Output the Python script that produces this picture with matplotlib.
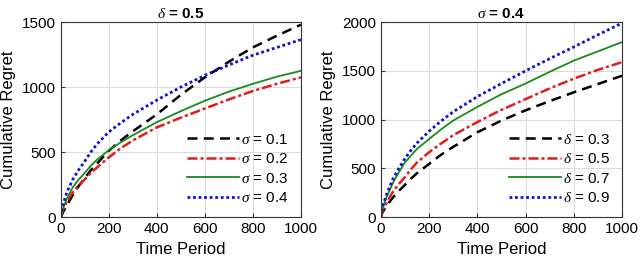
import numpy as np
import matplotlib
matplotlib.use("Agg")
import matplotlib.pyplot as plt

plt.rcParams['font.family'] = ['Liberation Sans', 'DejaVu Sans']
plt.rcParams['mathtext.fontset'] = 'custom'
plt.rcParams['mathtext.it'] = 'Liberation Serif:italic'

# time points
t = [0, 5, 10, 25, 50, 75, 100, 125, 150, 200, 250, 300, 400, 500, 600, 700, 800, 900, 1000]

# left panel, delta = 0.5
s01 = [0, 20, 40, 90, 170, 240, 300, 360, 410, 510, 590, 660, 790, 940, 1075, 1195, 1305, 1395, 1480]
s02 = [0, 35, 60, 120, 190, 245, 290, 340, 380, 460, 530, 590, 690, 765, 835, 905, 970, 1025, 1075]
s03 = [0, 40, 70, 140, 230, 290, 340, 395, 440, 515, 575, 630, 730, 815, 895, 965, 1025, 1080, 1125]
s04 = [0, 60, 100, 190, 290, 365, 430, 500, 560, 655, 725, 790, 900, 1000, 1090, 1170, 1245, 1305, 1365]

# right panel, sigma = 0.4
d03 = [0, 35, 60, 120, 200, 270, 330, 395, 450, 545, 640, 720, 870, 990, 1095, 1190, 1280, 1365, 1450]
d05 = [0, 45, 80, 150, 260, 340, 410, 490, 560, 665, 755, 840, 975, 1100, 1210, 1320, 1420, 1510, 1590]
d07 = [0, 65, 110, 210, 350, 460, 560, 630, 700, 800, 900, 990, 1130, 1260, 1370, 1490, 1605, 1700, 1795]
d09 = [0, 75, 130, 240, 390, 500, 600, 685, 760, 880, 985, 1080, 1235, 1370, 1500, 1625, 1745, 1870, 1990]

styles = [
    dict(color='black', linestyle=(0, (4, 2.5)), lw=1.8),
    dict(color='#e41a1c', linestyle=(0, (4, 1.2, 1.2, 1.2)), lw=1.8),
    dict(color='#1a8a1a', linestyle='-', lw=1.3),
    dict(color='#1010d0', linestyle=(0, (1, 1)), lw=2.0),
]

fig = plt.figure(figsize=(6.4, 2.6), dpi=100)
ax1 = fig.add_axes([0.095, 0.165, 0.375, 0.75])
ax2 = fig.add_axes([0.595, 0.165, 0.377, 0.75])

left_series = [s01, s02, s03, s04]
left_labels = [r'$\sigma$ = 0.1', r'$\sigma$ = 0.2', r'$\sigma$ = 0.3', r'$\sigma$ = 0.4']
right_series = [d03, d05, d07, d09]
right_labels = [r'$\delta$ = 0.3', r'$\delta$ = 0.5', r'$\delta$ = 0.7', r'$\delta$ = 0.9']

for ax, series, labels, ymax, title in [
        (ax1, left_series, left_labels, 1500, r'$\delta$ = 0.5'),
        (ax2, right_series, right_labels, 2000, r'$\sigma$ = 0.4')]:
    for y, lab, st in zip(series, labels, styles):
        ax.plot(t, y, label=lab, **st)
    ax.set_xlim(0, 1000)
    ax.set_ylim(0, ymax)
    ax.set_xticks([0, 200, 400, 600, 800, 1000])
    ax.set_yticks(np.arange(0, ymax + 1, 500))
    ax.grid(True, color='#dddddd', lw=0.8)
    ax.set_axisbelow(True)
    ax.tick_params(direction='in', labelsize=11, length=3, color='#333333')
    for sp in ax.spines.values():
        sp.set_color('#333333')
        sp.set_linewidth(0.8)
    ax.set_xlabel('Time Period', fontsize=12)
    ax.set_ylabel('Cumulative Regret', fontsize=12)
    ax.set_title(title, fontsize=11, fontweight='bold', pad=3)
    ax.legend(loc='lower right', frameon=False, fontsize=11, handlelength=3.4,
              handletextpad=0.1, labelspacing=0.35, borderaxespad=0.4)

fig.savefig('out.png', dpi=100)
